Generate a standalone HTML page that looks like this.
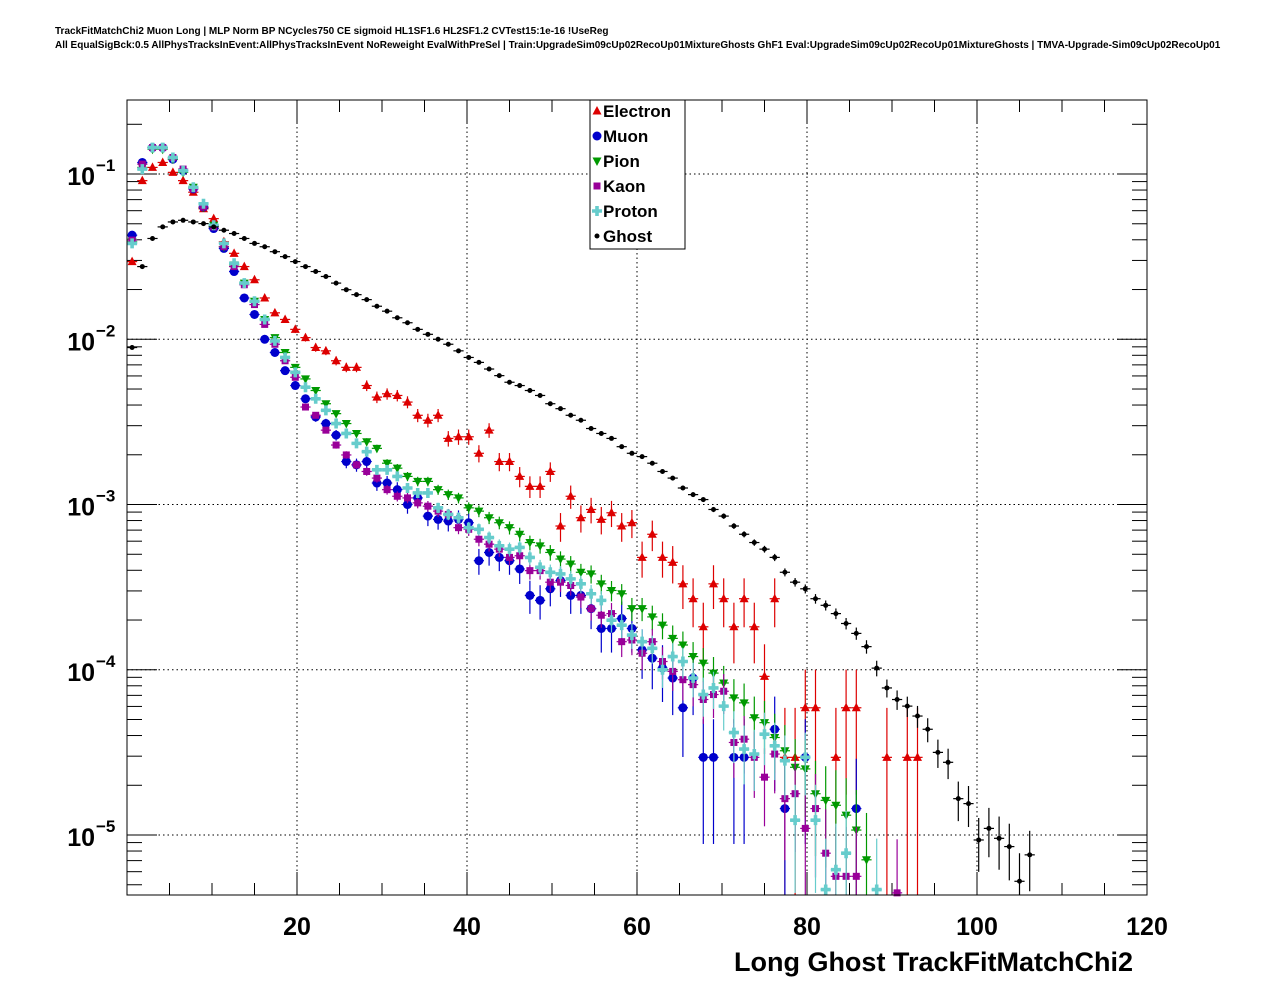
<!DOCTYPE html>
<html><head><meta charset="utf-8">
<style>
html,body{margin:0;padding:0;background:#fff;}
svg text{font-family:"Liberation Sans",sans-serif;font-weight:bold;}
</style></head>
<body>
<svg id="chart" width="1276" height="996" xmlns="http://www.w3.org/2000/svg">
<rect width="1276" height="996" fill="#fff"/>
<text x="55" y="34" font-size="10">TrackFitMatchChi2 Muon Long | MLP Norm BP NCycles750 CE sigmoid HL1SF1.6 HL2SF1.2 CVTest15:1e-16 !UseReg</text>
<text x="55" y="48" font-size="10">All EqualSigBck:0.5 AllPhysTracksInEvent:AllPhysTracksInEvent NoReweight EvalWithPreSel | Train:UpgradeSim09cUp02RecoUp01MixtureGhosts GhF1 Eval:UpgradeSim09cUp02RecoUp01MixtureGhosts | TMVA-Upgrade-Sim09cUp02RecoUp01</text>
<g id="grid"></g>
<g id="axes"></g>
<g id="marks"></g>
<rect x="127" y="100" width="1020" height="795" fill="none" stroke="#000" stroke-width="1"/>
<text x="1133" y="971" font-size="27" text-anchor="end">Long Ghost TrackFitMatchChi2</text>
<g id="legend"></g>
</svg>
<script>
// Data: log10 of normalized entries per bin (bins of width 1.2 starting at 0)
const binWidth = 1.2;
const xTicks = [20,40,60,80,100,120];
const yDecades = [-1,-2,-3,-4,-5];
const seriesNames = ["Electron","Muon","Pion","Kaon","Proton","Ghost"];
const electronLog10 = [-1.53,-1.04,-0.96,-0.93,-0.99,-1.04,-1.11,-1.21,-1.27,-1.41,-1.48,-1.56,-1.64,-1.75,-1.84,-1.88,-1.94,-1.99,-2.05,-2.07,-2.13,-2.17,-2.17,-2.28,-2.35,-2.33,-2.34,-2.38,-2.46,-2.49,-2.46,-2.60,-2.59,-2.59,-2.69,-2.55,-2.74,-2.74,-2.83,-2.89,-2.89,-2.80,-3.13,-2.95,-3.08,-3.03,-3.09,-3.05,-3.13,-3.11,-3.32,-3.18,-3.32,-3.35,-3.48,-3.57,-3.74,-3.48,-3.57,-3.74,-3.57,-3.74,-4.04,-3.57,-4.53,-4.53,-4.23,-4.23,null,-4.53,-4.23,-4.23,null,null,-4.53,null,-4.53,-4.53];
const muonLog10 = [-1.37,-0.93,-0.84,-0.84,-0.91,-0.98,-1.09,-1.20,-1.33,-1.45,-1.59,-1.75,-1.85,-2.00,-2.08,-2.19,-2.28,-2.36,-2.47,-2.51,-2.58,-2.74,-2.76,-2.74,-2.87,-2.87,-2.91,-3.00,-2.96,-3.07,-3.09,-3.10,-3.09,-3.11,-3.34,-3.29,-3.32,-3.34,-3.39,-3.55,-3.58,-3.51,-3.46,-3.55,-3.55,-3.63,-3.75,-3.75,-3.69,-3.75,-3.88,-3.93,-3.99,-4.05,-4.23,-4.05,-4.53,-4.53,null,-4.53,-4.53,null,null,-4.36,-4.84,null,-4.53,null,null,null,null,-4.84];
const pionLog10 = [-1.41,-0.96,-0.85,-0.85,-0.91,-0.99,-1.08,-1.20,-1.31,-1.44,-1.55,-1.66,-1.77,-1.88,-1.99,-2.08,-2.17,-2.24,-2.31,-2.39,-2.45,-2.51,-2.57,-2.62,-2.66,-2.75,-2.78,-2.83,-2.86,-2.86,-2.91,-2.94,-2.96,-3.02,-3.04,-3.08,-3.11,-3.14,-3.18,-3.23,-3.25,-3.29,-3.33,-3.36,-3.41,-3.42,-3.48,-3.52,-3.54,-3.63,-3.63,-3.68,-3.73,-3.81,-3.85,-3.92,-3.96,-4.02,-4.08,-4.17,-4.20,-4.29,-4.32,-4.41,-4.49,-4.59,-4.60,-4.75,-4.79,-4.82,-4.88,-4.97,-5.15];
const kaonLog10 = [-1.40,-0.94,-0.84,-0.84,-0.90,-0.97,-1.09,-1.20,-1.32,-1.44,-1.56,-1.67,-1.79,-1.91,-2.03,-2.13,-2.23,-2.41,-2.46,-2.55,-2.64,-2.70,-2.76,-2.80,-2.84,-2.91,-2.95,-2.96,-2.99,-3.01,-3.04,-3.06,-3.14,-3.15,-3.21,-3.24,-3.27,-3.32,-3.31,-3.40,-3.40,-3.47,-3.47,-3.49,-3.56,-3.63,-3.67,-3.66,-3.83,-3.82,-3.90,-3.83,-3.95,-4.01,-4.06,-4.09,-4.18,-4.15,-4.13,-4.44,-4.42,-4.53,-4.65,-4.51,-4.78,-4.75,-4.96,-4.84,-5.11,-5.25,-5.25,-5.25,null,null,null,-5.35];
const protonLog10 = [-1.42,-0.97,-0.84,-0.84,-0.90,-0.98,-1.08,-1.18,-1.31,-1.42,-1.54,-1.66,-1.77,-1.88,-2.01,-2.11,-2.20,-2.29,-2.36,-2.43,-2.51,-2.57,-2.63,-2.68,-2.79,-2.79,-2.83,-2.90,-2.93,-2.93,-3.02,-3.06,-3.08,-3.14,-3.15,-3.20,-3.25,-3.27,-3.26,-3.32,-3.38,-3.41,-3.42,-3.45,-3.48,-3.54,-3.58,-3.70,-3.73,-3.79,-3.83,-3.87,-4.00,-3.92,-3.95,-4.05,-4.15,-4.11,-4.22,-4.38,-4.48,-4.51,-4.39,-4.46,-4.55,-4.91,-4.53,-4.91,-5.33,-5.21,-5.11,null,null,-5.33];
const ghostLog10 = [-2.05,-1.56,-1.39,-1.32,-1.29,-1.28,-1.29,-1.30,-1.32,-1.34,-1.36,-1.39,-1.42,-1.44,-1.47,-1.50,-1.53,-1.56,-1.59,-1.62,-1.66,-1.70,-1.73,-1.76,-1.80,-1.83,-1.87,-1.90,-1.94,-1.97,-2.00,-2.03,-2.07,-2.11,-2.14,-2.18,-2.22,-2.26,-2.28,-2.31,-2.34,-2.39,-2.42,-2.46,-2.49,-2.54,-2.57,-2.60,-2.65,-2.69,-2.71,-2.75,-2.80,-2.84,-2.90,-2.94,-2.97,-3.03,-3.07,-3.13,-3.18,-3.23,-3.27,-3.32,-3.41,-3.47,-3.51,-3.57,-3.61,-3.66,-3.72,-3.78,-3.86,-3.99,-4.11,-4.18,-4.22,-4.28,-4.36,-4.50,-4.56,-4.78,-4.81,-5.03,-4.96,-5.02,-5.07,-5.28,-5.12];

const NS='http://www.w3.org/2000/svg';
const X0=127, X1=1147, Y0=100, Y1=895;
const XMIN=0, XMAX=120;
const LTOP=-0.552, LBOT=-5.363;
function xScale(v){return X0+(v-XMIN)/(XMAX-XMIN)*(X1-X0);}
function yScaleLog(l){return Y0+(LTOP-l)/(LTOP-LBOT)*(Y1-Y0);}
function mk(tag,attrs,parent){const e=document.createElementNS(NS,tag);for(const k in attrs)e.setAttribute(k,attrs[k]);parent.appendChild(e);return e;}

const grid=document.getElementById('grid');
const axes=document.getElementById('axes');
const marks=document.getElementById('marks');
const legend=document.getElementById('legend');

xTicks.forEach(t=>{
  const x=xScale(t);
  if(t<XMAX){const g=mk('line',{x1:x,x2:x,y1:Y0,y2:Y1,stroke:'#000','stroke-width':1,'stroke-dasharray':'1.5,3'},grid);
  
  }
  const lb=mk('text',{x:x,y:935,'font-size':25,'text-anchor':'middle'},axes);
  lb.textContent=String(t);
  
  
});
for(let v=5;v<XMAX;v+=5){
  const x=xScale(v), major=(v%20===0), len=major?23:12;
  mk('line',{x1:x,x2:x,y1:Y1,y2:Y1-len,stroke:'#000','stroke-width':1},axes);
  mk('line',{x1:x,x2:x,y1:Y0,y2:Y0+len,stroke:'#000','stroke-width':1},axes);
}
yDecades.forEach(d=>{
  const y=yScaleLog(d);
  const g=mk('line',{x1:X0,x2:X1,y1:y,y2:y,stroke:'#000','stroke-width':1,'stroke-dasharray':'1.5,3'},grid);
  
  
  const t=mk('text',{x:95,y:y+11,'font-size':25,'text-anchor':'end'},axes);
  t.textContent='10';
  
  
  const s=mk('text',{x:96,y:y-3,'font-size':17},axes);
  s.textContent='\u2212'+(-d);
  
  
});
for(let d=-6;d<=-1;d++){
  for(let m=1;m<=9;m++){
    const l=d+Math.log10(m);
    if(l>LTOP||l<LBOT)continue;
    const y=yScaleLog(l), len=(m===1)?30:15;
    mk('line',{x1:X0,x2:X0+len,y1:y,y2:y,stroke:'#000','stroke-width':1},axes);
    mk('line',{x1:X1,x2:X1-len,y1:y,y2:y,stroke:'#000','stroke-width':1},axes);
  }
}

const colors={Electron:'#dd0000',Muon:'#0000cc',Pion:'#009900',Kaon:'#990099',Proton:'#66cccc',Ghost:'#000000'};
const units={Electron:2.9e-5,Muon:1.45e-5,Pion:6e-6,Kaon:5.5e-6,Proton:5e-6,Ghost:1.2e-6};
const dataMap={Electron:electronLog10,Muon:muonLog10,Pion:pionLog10,Kaon:kaonLog10,Proton:protonLog10,Ghost:ghostLog10};

function marker(name,x,y,parent){
  const c=colors[name];let e;
  if(name==='Electron') e=mk('polygon',{points:`${x},${y-5} ${x-4.5},${y+3.5} ${x+4.5},${y+3.5}`,fill:c},parent);
  else if(name==='Muon') e=mk('circle',{cx:x,cy:y,r:4.5,fill:c},parent);
  else if(name==='Pion') e=mk('polygon',{points:`${x},${y+5} ${x-4.5},${y-3.5} ${x+4.5},${y-3.5}`,fill:c},parent);
  else if(name==='Kaon') e=mk('rect',{x:x-3.5,y:y-3.5,width:7,height:7,fill:c},parent);
  else if(name==='Proton') e=mk('path',{d:`M${x-1.8},${y-5}h3.6v3.2h3.2v3.6h-3.2v3.2h-3.6v-3.2h-3.2v-3.6h3.2z`,fill:c},parent);
  else e=mk('circle',{cx:x,cy:y,r:2.5,fill:c},parent);
  return e;
}

seriesNames.forEach(name=>{
  const g=mk('g',{},marks);
  
  
  const arr=dataMap[name], c=colors[name];
  arr.forEach((l,i)=>{
    if(l===null)return;
    const xc=(i+0.5)*binWidth;
    const x=xScale(xc), y=yScaleLog(l);
    if(y>Y1+3)return;
    const v=Math.pow(10,l), n=v/units[name], err=v/Math.sqrt(Math.max(n,1e-9));
    const lo=v-err>0?Math.log10(v-err):LBOT-1, hi=Math.log10(v+err);
    const ylo=Math.min(Y1,yScaleLog(lo)), yhi=Math.max(Y0,yScaleLog(hi));
    const xl=xScale(xc-binWidth/2), xr=xScale(xc+binWidth/2);
    mk('line',{x1:xl,x2:xr,y1:y,y2:y,stroke:c,'stroke-width':1.2},g);
    mk('line',{x1:x,x2:x,y1:ylo,y2:yhi,stroke:c,'stroke-width':1.2},g);
    const m=marker(name,x,y,g);
    
    
  });
});

const lbox=mk('rect',{x:590,y:100,width:95,height:149,fill:'#fff',stroke:'#000','stroke-width':1},legend);


seriesNames.forEach((name,i)=>{
  const y=111+i*25;
  const g=mk('g',{},legend);
  
  
  marker(name,597,y,g);
  const t=mk('text',{x:603,y:y+6,'font-size':17},g);
  t.textContent=name;
});
</script>
</body></html>
